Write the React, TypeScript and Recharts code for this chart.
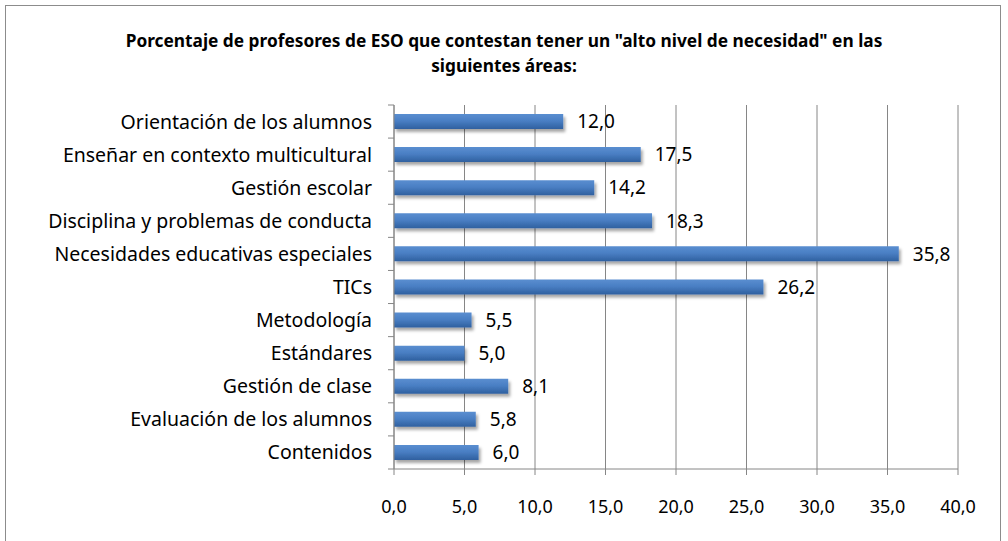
import React from "react";
import { BarChart, Bar, XAxis, YAxis, CartesianGrid, LabelList } from "recharts";

const categories = [
  "Orientación de los alumnos",
  "Enseñar en contexto multicultural",
  "Gestión escolar",
  "Disciplina y problemas de conducta",
  "Necesidades educativas especiales",
  "TICs",
  "Metodología",
  "Estándares",
  "Gestión de clase",
  "Evaluación de los alumnos",
  "Contenidos",
];
const values = [12.0, 17.5, 14.2, 18.3, 35.8, 26.2, 5.5, 5.0, 8.1, 5.8, 6.0];
const xTicks = [0, 5, 10, 15, 20, 25, 30, 35, 40];
const titleLines = [
  'Porcentaje de profesores de ESO que contestan tener un "alto nivel de necesidad" en las',
  "siguientes áreas:",
];

const data = categories.map((name, i) => ({ name, value: values[i] }));
const fmt = (v: number) => v.toFixed(1).replace(".", ",");
const FONT = "'Noto Sans', sans-serif";
const AXIS = "#868686";

const CatTick = (props: any) => {
  const { x, y, payload, height, visibleTicksCount, index } = props;
  const n = visibleTicksCount || categories.length;
  const half = height ? height / n / 2 : 0;
  const ax = x + 8;
  return (
    <g>
      <line x1={ax - 6} x2={ax} y1={y - half} y2={y - half} stroke={AXIS} strokeWidth={1} />
      {index === n - 1 && (
        <line x1={ax - 6} x2={ax} y1={y + half} y2={y + half} stroke={AXIS} strokeWidth={1} />
      )}
      <text x={x - 14} y={y} dy={7} textAnchor="end" fontFamily={FONT} fontSize={19.5} fill="#000">
        {payload.value}
      </text>
    </g>
  );
};

export default function App() {
  return (
    <div style={{ position: "absolute", left: 0, top: 0, width: 1008, height: 541, background: "#fff", overflow: "hidden" }}>
      <div
        style={{
          position: "absolute",
          left: 5,
          top: 5,
          width: 996,
          height: 560,
          border: "1.5px solid #8c8c8c",
          boxSizing: "border-box",
        }}
      />
      <div
        style={{
          position: "absolute",
          left: 0,
          top: 28,
          width: 1008,
          textAlign: "center",
          fontFamily: FONT,
          fontWeight: 700,
          fontSize: 17.3,
          lineHeight: "25px",
          color: "#000",
        }}
      >
        {titleLines.map((t, i) => (
          <div key={i}>{t}</div>
        ))}
      </div>
      <div style={{ position: "absolute", left: 0, top: 0 }}>
        <BarChart
          width={1008}
          height={541}
          data={data}
          layout="vertical"
          margin={{ top: 105, right: 50, left: 0, bottom: 42 }}
          barSize={15}
        >
          <defs>
            <linearGradient id="barGrad" x1="0" y1="0" x2="0" y2="1">
              <stop offset="0%" stopColor="#5a8ed0" />
              <stop offset="45%" stopColor="#4a7fc4" />
              <stop offset="100%" stopColor="#2f609f" />
            </linearGradient>
            <filter id="shadow" x="-5%" y="-30%" width="115%" height="190%">
              <feDropShadow dx="2" dy="3" stdDeviation="1.8" floodColor="#000" floodOpacity="0.35" />
            </filter>
          </defs>
          <CartesianGrid horizontal={false} vertical={true} stroke={AXIS} strokeWidth={1} />
          <XAxis
            type="number"
            domain={[0, 40]}
            ticks={xTicks}
            interval={0}
            tickFormatter={fmt}
            stroke={AXIS}
            tickSize={6}
            tickMargin={25}
            height={30}
            tick={{ fontFamily: FONT, fontSize: 18, fill: "#000" }}
          />
          <YAxis
            type="category"
            dataKey="name"
            width={394}
            stroke={AXIS}
            tickLine={false}
            tickSize={6}
            tickMargin={2}
            tick={<CatTick />}
            interval={0}
          />
          <Bar dataKey="value" fill="url(#barGrad)" filter="url(#shadow)" isAnimationActive={false}>
            <LabelList
              dataKey="value"
              position="right"
              offset={14}
              formatter={(v: any) => fmt(Number(v))}
              style={{ fontFamily: FONT, fontSize: 19, fill: "#000" }}
            />
          </Bar>
        </BarChart>
      </div>
    </div>
  );
}
